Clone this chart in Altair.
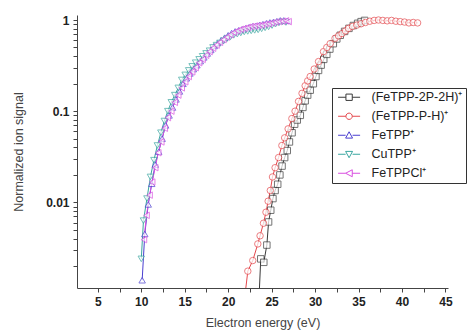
import altair as alt
import pandas as pd

series_names = ["(FeTPP-2P-2H)⁺", "(FeTPP-P-H)⁺", "FeTPP⁺", "CuTPP⁺", "FeTPPCl⁺"]
series_colors = ["#3a3a3a", "#e5484d", "#4a3fd0", "#3aa6a0", "#d94ee0"]
point_shapes = ["square", "circle", "triangle-up", "triangle-down", "triangle-left"]

# legend symbols: line stub + marker + line stub
legend_shapes = [
    "M-1,0H1.48M3.48,0H5.96M1.48,-1H3.48V1H1.48Z",
    "M-1,0H1.48M3.48,0H5.96M1.48,0A1,1 0 1,0 3.48,0A1,1 0 1,0 1.48,0Z",
    "M-1,0H1.38M3.58,0H5.96M2.48,-1.1L3.58,0.9L1.38,0.9Z",
    "M-1,0H1.38M3.58,0H5.96M2.48,1.1L3.58,-0.9L1.38,-0.9Z",
    "M-1,0H1.38M3.48,0H5.96M1.38,0L3.48,-1.1L3.48,1.1Z",
]

x_2p2h = [21.3, 23.55, 23.75, 24.1, 24.45, 24.65, 24.9, 25.15, 25.4, 25.7, 25.95, 26.2, 26.5,
          26.8, 27.05, 27.35, 27.65, 27.95, 28.3, 28.6, 28.86, 29.15, 29.44, 29.8, 30.1, 30.4,
          30.7, 31.0, 31.35, 31.7, 32.1, 32.5, 32.9, 33.4, 33.9, 34.4, 34.9, 35.3, 35.7]
y_2p2h = [0.001, 0.0009, 0.0024, 0.0022, 0.0034, 0.0061, 0.0082, 0.011, 0.0135, 0.0158, 0.02,
          0.025, 0.031, 0.037, 0.046, 0.058, 0.072, 0.08, 0.09, 0.11, 0.13, 0.15, 0.17, 0.20,
          0.24, 0.28, 0.32, 0.37, 0.42, 0.48, 0.55, 0.62, 0.68, 0.75, 0.81, 0.87, 0.92, 0.96, 0.99]

x_ph = [21.9, 22.26, 22.83, 23.41, 23.67, 24.06, 24.35, 24.6, 24.85, 25.1, 25.4, 25.8, 26.18,
        26.5, 26.9, 27.33, 27.7, 28.1, 28.5, 28.86, 29.15, 29.44, 29.9, 30.4, 30.97, 31.35,
        31.74, 32.3, 32.7, 33.1, 33.5, 33.85, 34.3, 34.8, 35.3, 35.8, 36.3, 36.8, 37.3, 37.8,
        38.3, 38.8, 39.3, 39.8, 40.3, 40.8, 41.3, 41.8]
y_ph = [0.0009, 0.00176, 0.0023, 0.0035, 0.0043, 0.0059, 0.0078, 0.0103, 0.0135, 0.019, 0.024,
        0.031, 0.042, 0.051, 0.064, 0.083, 0.10, 0.128, 0.157, 0.19, 0.215, 0.24, 0.29, 0.35,
        0.45, 0.50, 0.55, 0.63, 0.67, 0.71, 0.76, 0.81, 0.85, 0.88, 0.91, 0.94, 0.97, 0.99,
        1.0, 0.99, 0.98, 0.99, 0.97, 0.96, 0.95, 0.93, 0.94, 0.93]

x_fetpp = [10.1, 10.4, 10.8, 11.2, 11.6, 12.0, 12.4, 12.8, 13.2, 13.6, 14.0, 14.4, 14.8, 15.2,
           15.6, 16.0, 16.4, 16.8, 17.2, 17.6, 18.0, 18.4, 18.8, 19.2, 19.6, 20.0, 20.4, 20.8,
           21.2, 21.6, 22.0, 22.4, 22.8, 23.2, 23.6, 24.0, 24.4, 24.8, 25.2, 25.6, 26.0, 26.4, 26.8]
y_fetpp = [0.0014, 0.0045, 0.0095, 0.016, 0.026, 0.036, 0.050, 0.070, 0.090, 0.11, 0.135, 0.165,
           0.20, 0.23, 0.26, 0.29, 0.32, 0.355, 0.39, 0.43, 0.47, 0.52, 0.56, 0.60, 0.64, 0.68,
           0.72, 0.75, 0.77, 0.79, 0.81, 0.83, 0.85, 0.86, 0.88, 0.90, 0.92, 0.94, 0.95, 0.97,
           0.99, 0.99, 0.98]

x_cutpp = [10.0, 10.25, 10.65, 11.05, 11.45, 11.85, 12.25, 12.65, 13.05, 13.45, 13.85, 14.25,
           14.65, 15.05, 15.45, 15.85, 16.25, 16.65, 17.05, 17.45, 17.85, 18.25, 18.65, 19.05,
           19.45, 19.85, 20.25, 20.65, 21.05, 21.45, 21.85, 22.25, 22.65, 23.05, 23.45, 23.85,
           24.25, 24.65, 25.05, 25.45, 25.85, 26.25, 26.65]
y_cutpp = [0.0024, 0.0063, 0.011, 0.019, 0.029, 0.042, 0.058, 0.078, 0.10, 0.125, 0.15, 0.18,
           0.22, 0.25, 0.28, 0.31, 0.34, 0.37, 0.40, 0.43, 0.46, 0.50, 0.53, 0.56, 0.59, 0.62,
           0.65, 0.68, 0.70, 0.72, 0.74, 0.75, 0.76, 0.77, 0.78, 0.80, 0.82, 0.84, 0.87, 0.90,
           0.93, 0.95, 0.94]

x_fetppcl = [10.3, 10.6, 10.95, 11.25, 11.6, 11.95, 12.3, 12.7, 13.05, 13.45, 13.85, 14.25,
             14.65, 15.05, 15.45, 15.85, 16.25, 16.65, 17.05, 17.45, 17.85, 18.25, 18.65, 19.05,
             19.45, 19.85, 20.25, 20.65, 21.05, 21.45, 21.85, 22.25, 22.65, 23.05, 23.45, 23.85,
             24.25, 24.65, 25.05, 25.45, 25.85, 26.25, 26.65, 26.95]
y_fetppcl = [0.0039, 0.0072, 0.012, 0.0167, 0.024, 0.035, 0.046, 0.065, 0.085, 0.10, 0.125,
             0.15, 0.18, 0.21, 0.24, 0.27, 0.30, 0.34, 0.37, 0.41, 0.45, 0.49, 0.53, 0.57, 0.61,
             0.65, 0.69, 0.73, 0.76, 0.79, 0.81, 0.83, 0.85, 0.86, 0.87, 0.88, 0.90, 0.91, 0.93,
             0.95, 0.96, 0.97, 0.98, 0.96]

x_ticks = [2.5, 5, 7.5, 10, 12.5, 15, 17.5, 20, 22.5, 25, 27.5, 30, 32.5, 35, 37.5, 40, 42.5, 45]
y_ticks = [0.002, 0.003, 0.004, 0.005, 0.006, 0.007, 0.008, 0.009, 0.01,
           0.02, 0.03, 0.04, 0.05, 0.06, 0.07, 0.08, 0.09, 0.1,
           0.2, 0.3, 0.4, 0.5, 0.6, 0.7, 0.8, 0.9, 1]

all_x = [x_2p2h, x_ph, x_fetpp, x_cutpp, x_fetppcl]
all_y = [y_2p2h, y_ph, y_fetpp, y_cutpp, y_fetppcl]
rows = []
for name, xs, ys in zip(series_names, all_x, all_y):
    for xv, yv in zip(xs, ys):
        rows.append({"series": name, "energy": xv, "signal": yv})
df = pd.DataFrame(rows)

FONT = "Liberation Sans"

x_enc = alt.X("energy:Q",
              scale=alt.Scale(domain=[2.6, 45.3], nice=False, zero=False),
              axis=alt.Axis(title="Electron energy (eV)", values=x_ticks,
                            labelExpr="datum.value % 5 === 0 ? datum.label : ''",
                            grid=False, tickSize=4, labelPadding=4, titlePadding=9,
                            labelFontWeight="bold", labelFontSize=12, labelFont=FONT,
                            titleFont=FONT, titleFontSize=12.5, titleFontWeight="normal",
                            titleColor="#444", labelColor="#222",
                            domainColor="#444", tickColor="#444"))
y_enc = alt.Y("signal:Q",
              scale=alt.Scale(type="log", domain=[0.00115, 1.135], nice=False),
              axis=alt.Axis(title="Normalized ion signal", values=y_ticks,
                            labelExpr="datum.value == 1 ? '1' : datum.value == 0.1 ? '0.1' : datum.value == 0.01 ? '0.01' : ''",
                            grid=False, tickSize=4, labelPadding=4, titlePadding=20,
                            labelFontWeight="bold", labelFontSize=12, labelFont=FONT,
                            titleFont=FONT, titleFontSize=12.5, titleFontWeight="normal",
                            titleColor="#444", labelColor="#222",
                            domainColor="#444", tickColor="#444"))

base = alt.Chart(df)

lines = base.mark_line(strokeWidth=1, clip=True).encode(
    x=x_enc, y=y_enc,
    color=alt.Color("series:N", scale=alt.Scale(domain=series_names, range=series_colors), legend=None),
)

points = base.mark_point(filled=True, fill="white", strokeWidth=1, size=42, clip=True).encode(
    x=x_enc, y=y_enc,
    stroke=alt.Stroke("series:N", scale=alt.Scale(domain=series_names, range=series_colors), legend=None),
    shape=alt.Shape("series:N", scale=alt.Scale(domain=series_names, range=point_shapes), legend=None),
)

legend_layer = base.transform_filter("false").mark_point(filled=True, fill="white", strokeWidth=1, size=40).encode(
    x=x_enc, y=y_enc,
    stroke=alt.Stroke("series:N", scale=alt.Scale(domain=series_names, range=series_colors),
                      legend=alt.Legend(title=None)),
    shape=alt.Shape("series:N", scale=alt.Scale(domain=series_names, range=legend_shapes),
                    legend=alt.Legend(title=None)),
)

chart = alt.layer(lines, points, legend_layer).resolve_scale(
    stroke="independent", shape="independent"
).properties(
    width=371, height=273,
    autosize="none",
    padding={"left": 69, "top": 7, "right": 19, "bottom": 44},
).configure_view(stroke=None).configure_legend(
    orient="none", legendX=255, legendY=73,
    strokeColor="#333", fillColor="white", padding=3,
    symbolSize=40, symbolStrokeWidth=1, symbolOpacity=1,
    labelFont=FONT, labelFontSize=12.5, labelColor="#222", labelOffset=24,
    rowPadding=6, symbolFillColor="white", labelLimit=200,
)

chart.save("out.html", embed_options={"renderer": "svg", "actions": False})
